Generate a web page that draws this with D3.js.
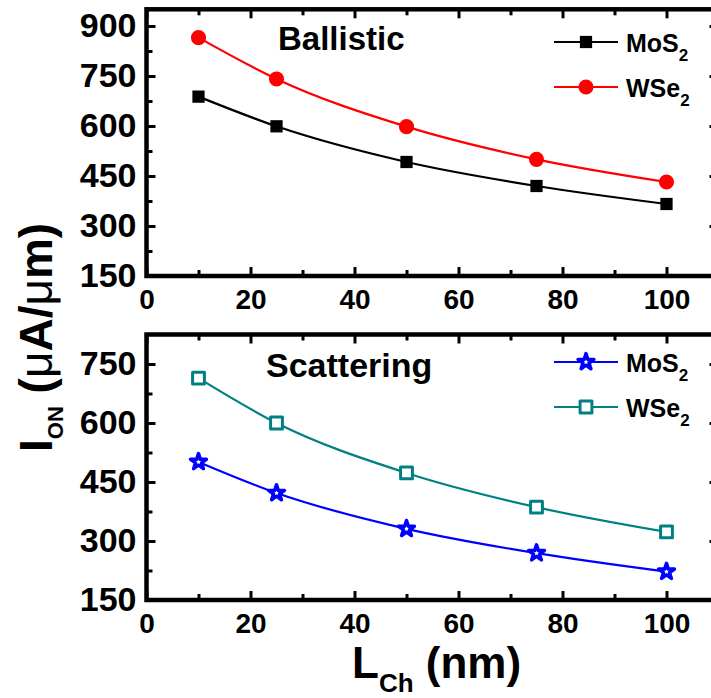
<!DOCTYPE html>
<html>
<head>
<meta charset="utf-8">
<script src="https://cdn.jsdelivr.net/npm/d3@7"></script>
<style>
  body { margin: 0; background: #fff; }
  text { font-family: "Liberation Sans", Arial, sans-serif; font-weight: bold; fill: #000; }
</style>
</head>
<body>
<svg id="chart" width="711" height="698"></svg>
<script>
// channel length (nm)
var lch = [10, 25, 50, 75, 100];

// ballistic I_ON (uA/um)
var ballisticMoS2 = [688, 599, 492, 420, 366];
var ballisticWSe2 = [865, 741, 598, 500, 432];

// with scattering
var scatterMoS2 = [501, 422, 331, 269, 222];
var scatterWSe2 = [714, 600, 473, 386, 323];

var xTicks = [0, 20, 40, 60, 80, 100];
var xMinor = [10, 30, 50, 70, 90, 110];
var yTicksTop = [150, 300, 450, 600, 750, 900];
var yMinorTop = [225, 375, 525, 675, 825];
var yTicksBottom = [150, 300, 450, 600, 750];
var yMinorBottom = [225, 375, 525, 675];

var svg = d3.select("#chart");

var x = d3.scaleLinear().domain([0, 110]).range([146.5, 718.5]);

var line = function(y) {
  return d3.line()
    .x(function(d, i) { return x(lch[i]); })
    .y(function(d) { return y(d); })
    .curve(d3.curveMonotoneX);
};

function drawPanel(p) {
  var y = d3.scaleLinear().domain(p.yDomain).range(p.yRange);
  var g = svg.append("g");
  var y0 = p.yRange[0], y1 = p.yRange[1];

  // minor ticks, all four sides
  g.append("g").attr("transform", "translate(0," + y0 + ")")
    .call(d3.axisBottom(x).tickValues(xMinor).tickSize(-6).tickFormat(""));
  g.append("g").attr("transform", "translate(0," + y1 + ")")
    .call(d3.axisTop(x).tickValues(xMinor).tickSize(-6).tickFormat(""));
  g.append("g").attr("transform", "translate(" + x.range()[0] + ",0)")
    .call(d3.axisLeft(y).tickValues(p.yMinor).tickSize(-6).tickFormat(""));
  g.append("g").attr("transform", "translate(" + x.range()[1] + ",0)")
    .call(d3.axisRight(y).tickValues(p.yMinor).tickSize(-6).tickFormat(""));

  // major ticks
  var xb = g.append("g").attr("transform", "translate(0," + y0 + ")")
    .call(d3.axisBottom(x).tickValues(xTicks).tickSize(-9));
  xb.selectAll("text").attr("dy", null).attr("y", 33).style("font-size", "28px");
  g.append("g").attr("transform", "translate(0," + y1 + ")")
    .call(d3.axisTop(x).tickValues(xTicks).tickSize(-9).tickFormat(""));
  var yl = g.append("g").attr("transform", "translate(" + x.range()[0] + ",0)")
    .call(d3.axisLeft(y).tickValues(p.yTicks).tickSize(-9).tickPadding(10));
  yl.selectAll("text").style("font-size", "34px");
  g.append("g").attr("transform", "translate(" + x.range()[1] + ",0)")
    .call(d3.axisRight(y).tickValues(p.yTicks).tickSize(-9).tickFormat(""));

  g.selectAll(".domain").remove();
  g.selectAll(".tick line").attr("stroke", "#000").attr("stroke-width", 3);

  // frame
  g.append("rect")
    .attr("x", x.range()[0]).attr("y", y1)
    .attr("width", x.range()[1] - x.range()[0]).attr("height", y0 - y1)
    .attr("fill", "none").attr("stroke", "#000").attr("stroke-width", 4.5);

  // curves + markers
  p.series.forEach(function(s) {
    g.append("path").datum(s.values)
      .attr("d", line(y))
      .attr("fill", "none").attr("stroke", s.color).attr("stroke-width", 2.2);
    g.selectAll(null).data(s.values).enter().append("path")
      .attr("transform", function(d, i) { return "translate(" + x(lch[i]) + "," + y(d) + ")"; })
      .attr("d", d3.symbol(s.symbol, s.size))
      .attr("fill", s.fill).attr("stroke", s.color).attr("stroke-width", s.sw)
      .attr("stroke-linejoin", "round");
  });

  // panel label
  g.append("text").attr("x", p.title.x).attr("y", p.title.y)
    .style("font-size", p.title.size + "px").text(p.title.text);

  // legend
  p.series.forEach(function(s, i) {
    var ly = p.legendY[i];
    g.append("line").attr("x1", 554).attr("x2", 618).attr("y1", ly).attr("y2", ly)
      .attr("stroke", s.color).attr("stroke-width", 2.2);
    g.append("path").attr("transform", "translate(586," + ly + ")")
      .attr("d", d3.symbol(s.symbol, s.size))
      .attr("fill", s.fill).attr("stroke", s.color).attr("stroke-width", s.sw)
      .attr("stroke-linejoin", "round");
    var t = g.append("text").attr("x", 626).attr("y", ly + 10).style("font-size", "25px");
    t.append("tspan").text(s.name);
    t.append("tspan").attr("dy", 9).style("font-size", "17px").text("2");
  });
}

drawPanel({
  yDomain: [150, 950], yRange: [276, 9.3],
  yTicks: yTicksTop, yMinor: yMinorTop,
  title: { text: "Ballistic", x: 278, y: 50, size: 33 },
  legendY: [42, 87],
  series: [
    { name: "MoS", values: ballisticMoS2, color: "#000", fill: "#000", symbol: d3.symbolSquare, size: 150, sw: 0 },
    { name: "WSe", values: ballisticWSe2, color: "#ff0000", fill: "#ff0000", symbol: d3.symbolCircle, size: 180, sw: 0 }
  ]
});

drawPanel({
  yDomain: [150, 825], yRange: [600, 334.5],
  yTicks: yTicksBottom, yMinor: yMinorBottom,
  title: { text: "Scattering", x: 266, y: 377, size: 34 },
  legendY: [362, 407],
  series: [
    { name: "MoS", values: scatterMoS2, color: "#0000ff", fill: "#fff", symbol: d3.symbolStar, size: 78, sw: 3.5 },
    { name: "WSe", values: scatterWSe2, color: "#008080", fill: "#fff", symbol: d3.symbolSquare, size: 140, sw: 3 }
  ]
});

// y axis title
var yt = svg.append("text").attr("transform", "translate(52,452) rotate(-90)").style("font-size", "46px");
yt.append("tspan").text("I");
yt.append("tspan").attr("dy", 11).style("font-size", "22px").text("ON");
yt.append("tspan").attr("dy", -11).text(" (");
yt.append("tspan").style("font-weight", "normal").text("μ");
yt.append("tspan").text("A/");
yt.append("tspan").style("font-weight", "normal").text("μ");
yt.append("tspan").text("m)");

// x axis title
var xt = svg.append("text").attr("x", 352).attr("y", 678).style("font-size", "44px");
xt.append("tspan").text("L");
xt.append("tspan").attr("dy", 14).style("font-size", "26px").text("Ch");
xt.append("tspan").attr("dy", -14).text(" (nm)");
</script>
</body>
</html>
